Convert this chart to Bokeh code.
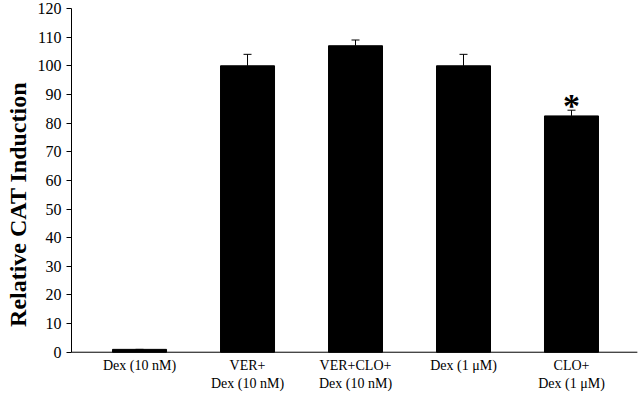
from bokeh.plotting import figure
from bokeh.models import Range1d, FixedTicker, Whisker, ColumnDataSource, TeeHead
from bokeh.core.properties import value
from bokeh.embed import file_html
from bokeh.resources import INLINE

categories = ["Dex (10 nM)", "VER+\nDex (10 nM)", "VER+CLO+\nDex (10 nM)", "Dex (1 \u03bcM)", "CLO+\nDex (1 \u03bcM)"]
means = [1, 100, 107, 100, 82.5]
errors = [0, 4, 2, 4, 2]
yticks = [0, 10, 20, 30, 40, 50, 60, 70, 80, 90, 100, 110, 120]

xs = list(range(len(categories)))
src = ColumnDataSource(dict(x=xs, top=means, upper=[m + e for m, e in zip(means, errors)]))

line1 = [c.split("\n")[0] for c in categories]
line2 = [c.split("\n")[1] if "\n" in c else "" for c in categories]
lab_src = ColumnDataSource(dict(x=xs, l1=line1, l2=line2,
                                y1=[-4.55] * len(xs), y2=[-10.8] * len(xs)))

FONT = "Liberation Serif"

p = figure(width=640, height=400, output_backend="svg", toolbar_location=None,
           x_range=Range1d(-0.63, 4.639), y_range=Range1d(-16.85, 120))
p.min_border_top = 8
p.min_border_left = 71
p.min_border_right = 0
p.min_border_bottom = 0
p.outline_line_color = None
p.xgrid.grid_line_color = None
p.ygrid.grid_line_color = None
p.background_fill_color = "white"
p.xaxis.visible = False

p.vbar(x="x", top="top", bottom=0, width=0.5, source=src, fill_color="black", line_color="black")

w = Whisker(base="x", lower="top", upper="upper", source=src, line_color="black", line_width=1,
            upper_head=TeeHead(size=8, line_color="black", line_width=1), lower_head=None)
p.add_layout(w)

p.segment(x0=[-0.63], y0=[0], x1=[4.61], y1=[0], line_color="black", line_width=1)

p.text(x=[4], y=[86.2], text=["*"], text_font=value(FONT), text_font_size="34px",
       text_font_style="bold", text_align="center", text_baseline="middle", text_color="black")

p.text(x="x", y="y1", text="l1", source=lab_src, text_font=value(FONT), text_font_size="14px",
       text_align="center", text_baseline="middle", text_color="black")
p.text(x="x", y="y2", text="l2", source=lab_src, text_font=value(FONT), text_font_size="14px",
       text_align="center", text_baseline="middle", text_color="black")

p.yaxis.bounds = (0, 120)
p.yaxis.ticker = FixedTicker(ticks=yticks)
p.yaxis.minor_tick_line_color = None
p.yaxis.major_tick_in = 0
p.yaxis.major_tick_out = 5
p.yaxis.major_label_text_font = FONT
p.yaxis.major_label_text_font_size = "16px"
p.yaxis.major_label_text_color = "black"
p.yaxis.axis_line_color = "black"
p.yaxis.major_tick_line_color = "black"
p.yaxis.axis_label = "Relative CAT Induction"
p.yaxis.axis_label_text_font = FONT
p.yaxis.axis_label_text_font_size = "24px"
p.yaxis.axis_label_text_font_style = "bold"
p.yaxis.axis_label_text_color = "black"
p.yaxis.axis_label_standoff = 4

open("out.html", "w").write(file_html(p, INLINE))
